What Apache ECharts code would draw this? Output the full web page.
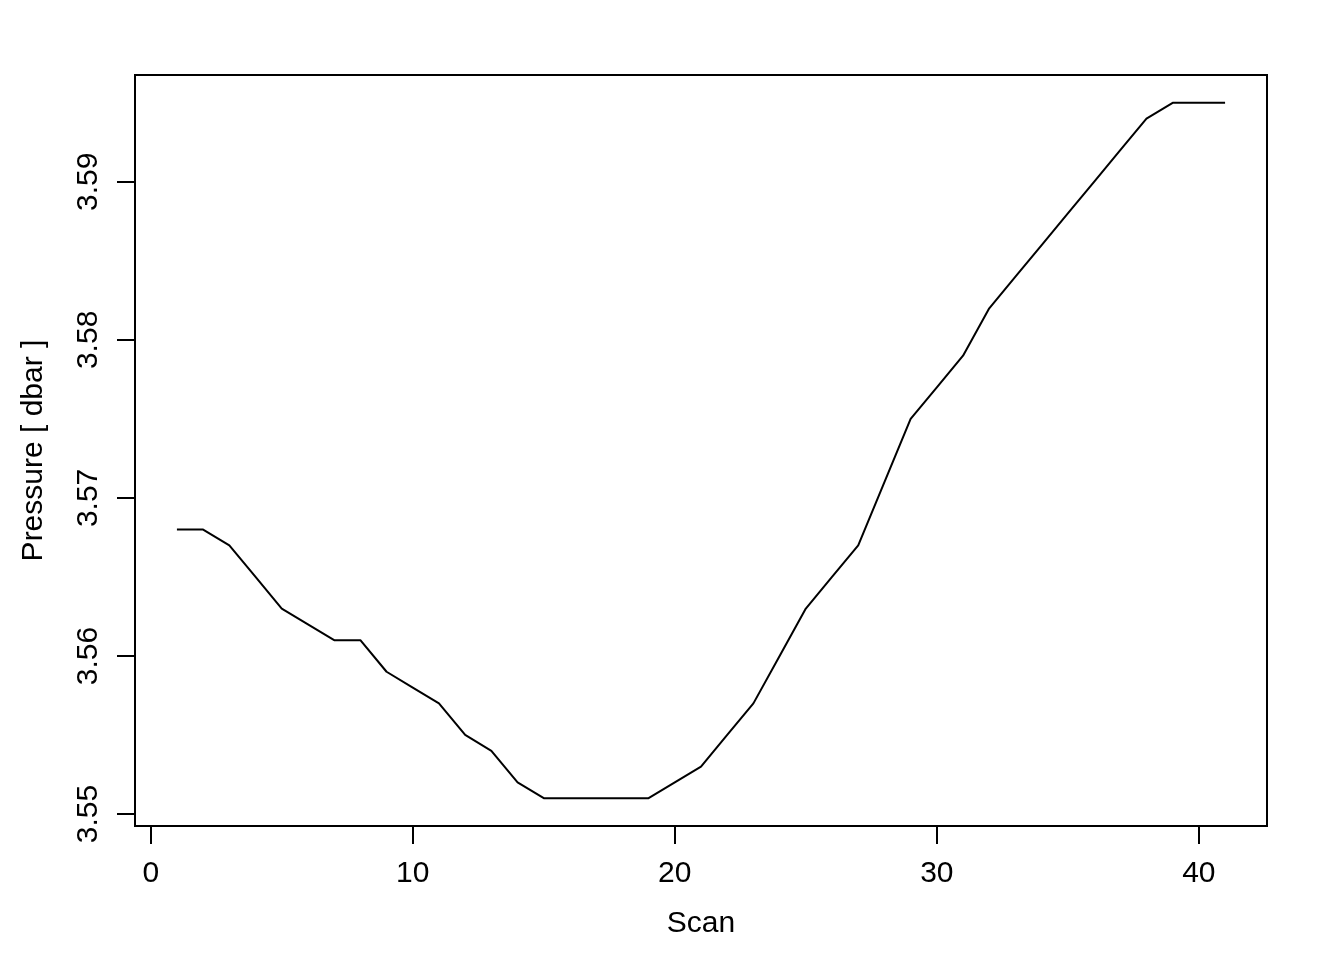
<!DOCTYPE html>
<html>
<head>
<meta charset="utf-8">
<title>Pressure by scan</title>
<script src="https://cdn.jsdelivr.net/npm/echarts@6/dist/echarts.min.js"></script>
<style>
  html, body { margin: 0; padding: 0; background: #fff; }
  #chart { width: 1344px; height: 960px; }
</style>
</head>
<body>
<div id="chart"></div>
<script>
// data
const scan = [1, 2, 3, 4, 5, 6, 7, 8, 9, 10, 11, 12, 13, 14, 15, 16, 17, 18, 19, 20, 21,
  22, 23, 24, 25, 26, 27, 28, 29, 30, 31, 32, 33, 34, 35, 36, 37, 38, 39, 40, 41]
const pressure = [3.568, 3.568, 3.567, 3.565, 3.563, 3.562, 3.561, 3.561, 3.559, 3.558,
  3.557, 3.555, 3.554, 3.552, 3.551, 3.551, 3.551, 3.551, 3.551, 3.552, 3.553, 3.555,
  3.557, 3.560, 3.563, 3.565, 3.567, 3.571, 3.575, 3.577, 3.579, 3.582, 3.584, 3.586,
  3.588, 3.590, 3.592, 3.594, 3.595, 3.595, 3.595]
const xTicks = [0, 10, 20, 30, 40]
const yTicks = [3.55, 3.56, 3.57, 3.58, 3.59]

const font = 'Liberation Sans, Arial, Helvetica, sans-serif'

// plot box in pixels (R style, 4% padding on each side of data range)
const box = { left: 135, top: 75, width: 1132, height: 751 }
const pad = (a, b) => { const d = (b - a) * 0.04; return [a - d, b + d] }
const [xMin, xMax] = pad(Math.min(...scan), Math.max(...scan))
const [yMin, yMax] = pad(Math.min(...pressure), Math.max(...pressure))

// second grid holding only the tick axes, spanning first..last tick
const tx0 = xTicks[0], tx1 = xTicks[xTicks.length - 1]
const ty0 = yTicks[0], ty1 = yTicks[yTicks.length - 1]
const axLeft = box.left + (tx0 - xMin) / (xMax - xMin) * box.width
const axWidth = (tx1 - tx0) / (xMax - xMin) * box.width
const axTop = box.top + (yMax - ty1) / (yMax - yMin) * box.height
const axHeight = (ty1 - ty0) / (yMax - yMin) * box.height
const xOffset = box.top + box.height - (axTop + axHeight)
const yOffset = axLeft - box.left

const chart = echarts.init(document.getElementById('chart'))

const hidden = {
  axisLine: { show: false },
  axisTick: { show: false },
  axisLabel: { show: false },
  splitLine: { show: false }
}

const option = {
  backgroundColor: '#fff',
  animation: false,
  textStyle: { fontFamily: font },
  grid: [
    {
      left: box.left, top: box.top, width: box.width, height: box.height,
      show: true, borderColor: '#000', borderWidth: 2, backgroundColor: 'transparent'
    },
    { left: axLeft, top: axTop, width: axWidth, height: axHeight }
  ],
  xAxis: [
    {
      type: 'value', gridIndex: 0, min: xMin, max: xMax, ...hidden,
      name: 'Scan', nameLocation: 'middle', nameGap: 83,
      nameTextStyle: { color: '#000', fontSize: 30, fontFamily: font }
    },
    {
      type: 'value', gridIndex: 1, min: tx0, max: tx1, interval: 10,
      position: 'bottom', offset: xOffset,
      axisLine: { show: true, onZero: false, lineStyle: { color: '#000', width: 2 } },
      axisTick: { show: true, length: 18, lineStyle: { color: '#000', width: 2 } },
      axisLabel: { show: true, margin: 33, color: '#000', fontSize: 30, fontFamily: font },
      splitLine: { show: false }
    }
  ],
  yAxis: [
    {
      type: 'value', gridIndex: 0, min: yMin, max: yMax, ...hidden,
      name: 'Pressure [ dbar ]', nameLocation: 'middle', nameGap: 86,
      nameTextStyle: { color: '#000', fontSize: 30, fontFamily: font }
    },
    {
      type: 'value', gridIndex: 1, min: ty0, max: ty1, interval: 0.01,
      position: 'left', offset: yOffset,
      axisLine: { show: true, onZero: false, lineStyle: { color: '#000', width: 2 } },
      axisTick: { show: true, length: 18, lineStyle: { color: '#000', width: 2 } },
      axisLabel: {
        show: true, margin: 31, rotate: 90, color: '#000', fontSize: 30, fontFamily: font,
        formatter: v => v.toFixed(2)
      },
      splitLine: { show: false }
    }
  ],
  series: [
    {
      type: 'line',
      xAxisIndex: 0,
      yAxisIndex: 0,
      data: scan.map((s, i) => [s, pressure[i]]),
      showSymbol: false,
      lineStyle: { color: '#000', width: 2 },
      silent: true
    }
  ]
}

chart.setOption(option)
</script>
</body>
</html>
